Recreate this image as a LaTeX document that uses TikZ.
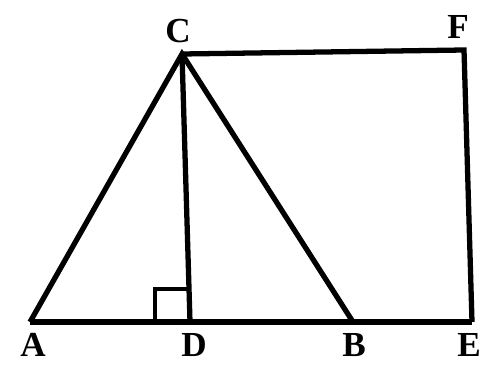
\documentclass[tikz,border=0pt]{standalone}
\usepackage{fontspec}
\setmainfont{Liberation Serif}
\begin{document}
\begin{tikzpicture}[
  x=0.02cm, y=-0.02cm,
  line width=3pt, line join=miter,
  lbl/.style={inner sep=0pt, font=\fontsize{20}{20}\selectfont\bfseries}
]
  \useasboundingbox (0,0) rectangle (483,365);
  % positions
  \coordinate (A) at (30,322);
  \coordinate (D) at (190,322);
  \coordinate (B) at (353,322);
  \coordinate (E) at (472,322);
  \coordinate (C) at (182,54);
  \coordinate (F) at (464,50);
  \coordinate (Q1) at (155,322);
  \coordinate (Q2) at (155,289);
  \coordinate (Q3) at (189,289);

  % labels
  \node[lbl] (lC) at (178,31)  {C};
  \node[lbl] (lF) at (458,27)  {F};
  \node[lbl] (lA) at (33,345)  {A};
  \node[lbl] (lD) at (194,345) {D};
  \node[lbl] (lB) at (354,345) {B};
  \node[lbl] (lE) at (469,345) {E};

  % edges
  \draw (A) -- (E);
  \draw (A) -- (C) -- (B);
  \draw (C) -- (D);
  \draw (C) -- (F) -- (E);
  \draw[line width=2.2pt] (Q1) -- (Q2) -- (Q3);
\end{tikzpicture}
\end{document}
